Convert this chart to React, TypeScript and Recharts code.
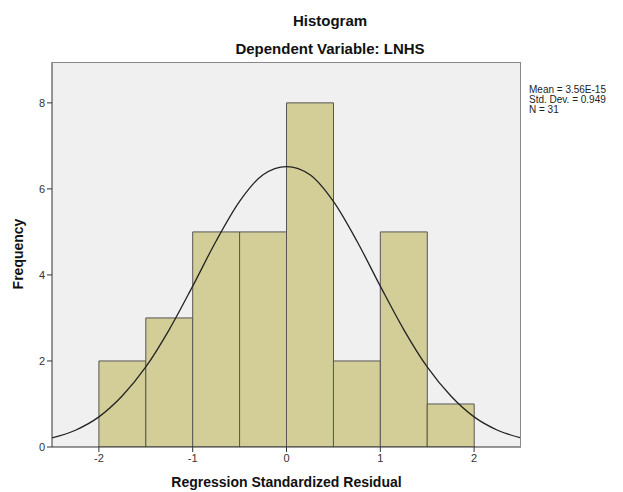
import { ComposedChart, Bar, Line, XAxis, YAxis, CartesianGrid } from "recharts";

// histogram bins (lower edge .. upper edge), frequency per bin
const binLabels = ["-2.5", "-2", "-1.5", "-1", "-0.5", "0", "0.5", "1", "1.5", "2"];
const binCounts = [0, 2, 3, 5, 5, 8, 2, 5, 1, 0];

// fitted normal curve
const curveX = [-2.5, -2.25, -2, -1.75, -1.5, -1.25, -1, -0.75, -0.5, -0.25, 0, 0.25, 0.5, 0.75, 1, 1.25, 1.5, 1.75, 2, 2.25, 2.5];
const curveY = [0.21, 0.39, 0.7, 1.19, 1.86, 2.73, 3.74, 4.79, 5.71, 6.33, 6.52, 6.33, 5.71, 4.79, 3.74, 2.73, 1.86, 1.19, 0.7, 0.39, 0.21];

const xTicks = [-2, -1, 0, 1, 2];
const yTicks = [0, 2, 4, 6, 8];
const statsLines = ["Mean = 3.56E-15", "Std. Dev. = 0.949", "N = 31"];

const bins = binLabels.map((bin, i) => ({ bin, freq: binCounts[i] }));
const curve = curveX.map((x, i) => ({ x, y: curveY[i] }));

const FONT = "'Liberation Sans', Arial, sans-serif";
const tickStyle = { fontSize: 11, fill: "#333", fontFamily: FONT };

export default function App() {
  return (
    <div style={{ position: "absolute", left: 0, top: 0, width: 623, height: 492, background: "#fff", fontFamily: FONT }}>
      <div style={{ position: "absolute", left: 0, width: 660, top: 12, textAlign: "center", fontWeight: "bold", fontSize: 15, color: "#111" }}>
        Histogram
      </div>
      <div style={{ position: "absolute", left: 0, width: 660, top: 40, textAlign: "center", fontWeight: "bold", fontSize: 15, color: "#111" }}>
        Dependent Variable: LNHS
      </div>
      <ComposedChart
        width={623}
        height={492}
        data={bins}
        margin={{ top: 62, right: 102, bottom: 25, left: 0 }}
        barCategoryGap={0}
        barGap={0}
      >
        <CartesianGrid horizontal={false} vertical={false} fill="#f0f0f0" />
        <XAxis
          xAxisId="num"
          dataKey="x"
          type="number"
          domain={[-2.5, 2.5]}
          ticks={xTicks}
          allowDataOverflow
          height={20}
          tickSize={5}
          tick={tickStyle}
          stroke="#333"
        />
        <XAxis xAxisId="bins" dataKey="bin" hide height={0} />
        <YAxis
          domain={[0, 8.95]}
          ticks={yTicks}
          allowDataOverflow
          width={52}
          tickSize={5}
          tick={tickStyle}
          stroke="#333"
        />
        <Bar
          xAxisId="bins"
          dataKey="freq"
          fill="#d3ce98"
          stroke="#555"
          strokeWidth={1}
          isAnimationActive={false}
        />
        <Line
          xAxisId="num"
          data={curve}
          dataKey="y"
          type="monotone"
          stroke="#222"
          strokeWidth={1.3}
          dot={false}
          isAnimationActive={false}
        />
      </ComposedChart>
      <div style={{ position: "absolute", left: 52, top: 62, width: 469, height: 385, borderTop: "1px solid #888", borderRight: "1px solid #888", boxSizing: "border-box", pointerEvents: "none" }} />
      <div style={{ position: "absolute", left: 529, top: 85, fontSize: 10, lineHeight: "10px", color: "#222" }}>
        {statsLines.map((s) => (
          <div key={s}>{s}</div>
        ))}
      </div>
      <div
        style={{
          position: "absolute",
          left: 18,
          top: 254,
          transform: "translate(-50%, -50%) rotate(-90deg)",
          fontWeight: "bold",
          fontSize: 14,
          color: "#111",
          whiteSpace: "nowrap",
        }}
      >
        Frequency
      </div>
      <div style={{ position: "absolute", left: 52, width: 469, top: 474, textAlign: "center", fontWeight: "bold", fontSize: 14, color: "#111" }}>
        Regression Standardized Residual
      </div>
    </div>
  );
}
